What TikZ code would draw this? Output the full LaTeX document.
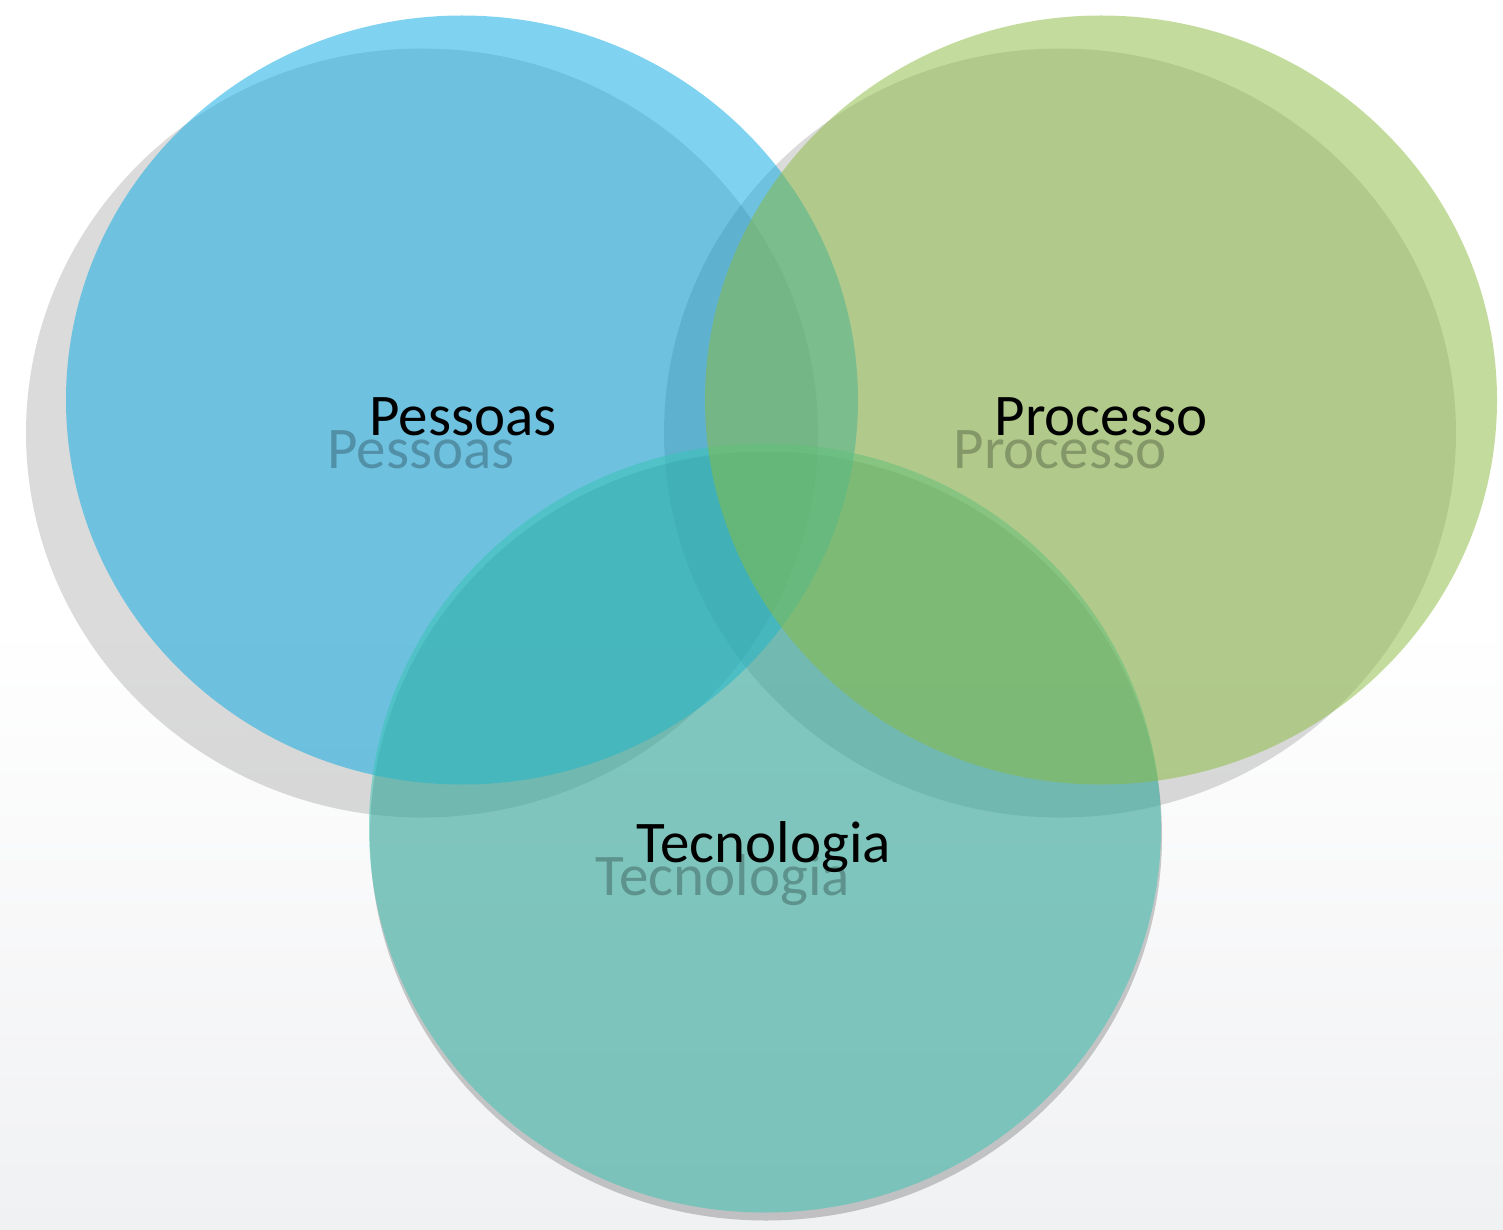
\documentclass[tikz,border=0pt]{standalone}
\usepackage{fontspec}
\setmainfont{Carlito}
\usetikzlibrary{shapes.geometric,positioning}
\definecolor{pessoasazul}{RGB}{3,169,227}
\definecolor{processoverde}{RGB}{137,187,61}
\definecolor{tecnoteal}{RGB}{55,196,180}
\definecolor{fundocinza}{RGB}{240,241,243}

\begin{document}
\begin{tikzpicture}[x=1pt,y=-1pt,
vennnode/.style={ellipse, minimum width=792pt, minimum height=769pt, inner sep=0pt, fill opacity=0.5},
sombranode/.style={ellipse, minimum width=792pt, minimum height=769pt, inner sep=0pt, fill=black, fill opacity=0.14},
rotulo/.style={anchor=base, inner sep=0pt, font=\fontsize{59}{62}\selectfont},
rotulosombra/.style={rotulo, text=black, text opacity=0.25},
]
%Fundo
\fill[white] (0,0) rectangle (1503,1230);
\shade[top color=white, bottom color=fundocinza] (0,620) rectangle (1503,1230);
\useasboundingbox (0,0) rectangle (1503,1230);
%Sombras
\node[sombranode]                    (sPessoas)  at (422,433)  {};
\node[sombranode]                    (sProcesso) at (1060,433) {};
\node[sombranode, fill opacity=0.2]  (sTecno)    at (766,836)  {};
%Circulos
\node[vennnode, fill=pessoasazul]    (Pessoas)   at (462,400)  {};
\node[vennnode, fill=tecnoteal]      (Tecno)     at (765,828)  {};
\node[vennnode, fill=processoverde]  (Processo)  at (1101,400) {};
%Textos
\node[rotulosombra] (tPessoasS)  at ([xshift=-41pt,yshift=-68pt]Pessoas.center)  {Pessoas};
\node[rotulosombra] (tProcessoS) at ([xshift=-41pt,yshift=-68pt]Processo.center) {Processo};
\node[rotulosombra] (tTecnoS)    at ([xshift=-42pt,yshift=-67pt]Tecno.center)    {Tecnologia};
\node[rotulo]       (tPessoas)   at ([xshift=1pt,yshift=-35pt]Pessoas.center)    {Pessoas};
\node[rotulo]       (tProcesso)  at ([yshift=-35pt]Processo.center)              {Processo};
\node[rotulo]       (tTecno)     at ([xshift=-1pt,yshift=-34pt]Tecno.center)     {Tecnologia};
\end{tikzpicture}
\end{document}
